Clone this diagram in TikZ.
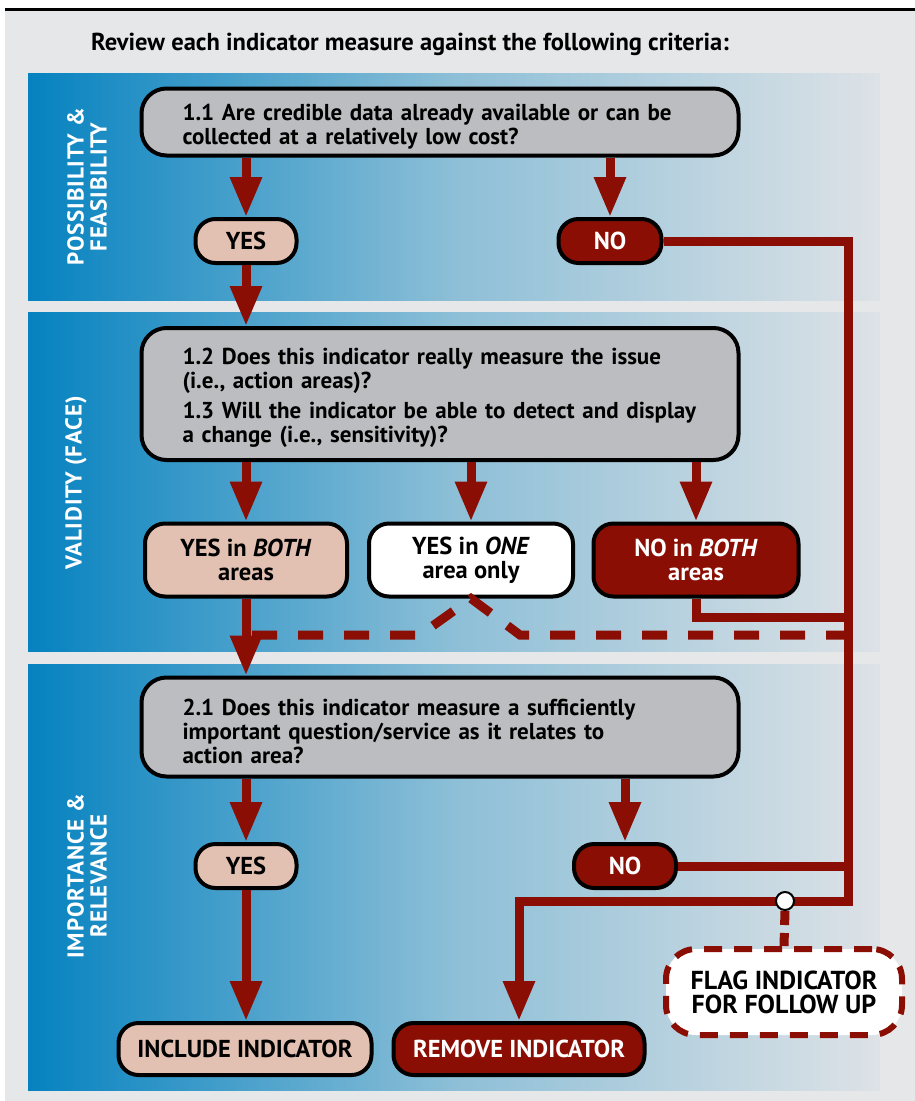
\documentclass[tikz,border=0pt]{standalone}
\usepackage{fontspec}
\setmainfont{PT Sans}
\newfontfamily\bandfont[LetterSpace=4]{PT Sans}
\usetikzlibrary{arrows.meta}
\definecolor{pagegray}{HTML}{E6E7E8}
\definecolor{bandleft}{HTML}{0582C0}
\definecolor{bandmid}{HTML}{8DBFD7}
\definecolor{bandright}{HTML}{DDE2E6}
\definecolor{qgray}{HTML}{BCBDC0}
\definecolor{yespink}{HTML}{E3C1B2}
\definecolor{nored}{HTML}{8B0E04}

\begin{document}
\begin{tikzpicture}[x=1pt, y=-1pt,
    band/.style = {left color=bandleft, right color=bandright, middle color=bandmid},
    bandlabel/.style = {text=white, align=center, rotate=90, font=\bandfont\bfseries\fontsize{23}{23}\selectfont},
    question/.style = {draw=black, line width=4pt, rounded corners=25pt, fill=qgray,
        minimum width=597pt, text width=515pt, inner xsep=41pt, align=left,
        font=\bfseries\fontsize{23}{24}\selectfont, execute at begin node={\rule{0pt}{25pt}}},
    answer/.style = {draw=black, line width=4pt, rounded corners=20pt, minimum height=44pt,
        align=center, font=\bfseries\fontsize{24.5}{24}\selectfont},
    yesbox/.style = {answer, fill=yespink},
    onebox/.style = {answer, fill=white},
    nobox/.style = {answer, fill=nored, text=white},
    flagbox/.style = {draw=nored, line width=6pt, dash pattern=on 18pt off 12pt, fill=white,
        rounded corners=30pt, minimum width=236pt, minimum height=86pt, align=center,
        font=\bfseries\fontsize{26}{24}\selectfont},
    link/.style = {draw=nored, line width=9pt},
    flow/.style = {link, -{Triangle[length=40pt,width=30pt]}},
    maybe/.style = {link, dash pattern=on 25pt off 21pt},
    dot/.style = {circle, draw=black, line width=2pt, fill=white, minimum size=18pt, inner sep=0pt}]

\useasboundingbox (0,0) rectangle (915,1101);
\fill[pagegray] (5,10) rectangle (915,1101);
\draw[line width=3pt] (5,9) -- (915,9);
\shade[band] (28,73) rectangle (880,300);
\shade[band] (28,312) rectangle (880,651);
\shade[band] (28,664) rectangle (880,1090);

\node[font=\bfseries\fontsize{24.5}{24}\selectfont] (title) at (410,44) {Review each indicator measure against the following criteria:};

\node[bandlabel] (lab1) at (87,187) {POSSIBILITY \&\\FEASIBILITY};
\node[bandlabel] (lab2) at (76,483) {VALIDITY (FACE)};
\node[bandlabel] (lab3) at (87,876) {IMPORTANCE \&\\RELEVANCE};

\node[question, minimum height=67pt] (q1) at (440,122)
    {1.1 Are credible data already available or can be\\collected at a relatively low cost?};
\node[yesbox, minimum width=101pt] (yes1) at (246,241) {YES};
\node[nobox, minimum width=103pt] (no1) at (610,241) {NO};

\node[question, minimum height=132pt] (q2) at (440,394)
    {1.2 Does this indicator really measure the issue\\(i.e., action areas)?\\[6pt]
     1.3 Will the indicator be able to detect and display\\a change (i.e., sensitivity)?};
\node[yesbox, minimum width=202pt, minimum height=73pt] (yesboth) at (246,560) {YES in \textit{BOTH}\\areas};
\node[onebox, minimum width=204pt, minimum height=73pt] (yesone) at (471,560) {YES in \textit{ONE}\\area only};
\node[nobox, minimum width=205pt, minimum height=73pt] (noboth) at (696,560) {NO in \textit{BOTH}\\areas};

\node[question, minimum height=99pt] (q3) at (440,727)
    {2.1 Does this indicator measure a sufficiently\\important question/service as it relates to\\action area?};
\node[yesbox, minimum width=101pt] (yes3) at (246,866) {YES};
\node[nobox, minimum width=102pt] (no3) at (625,866) {NO};

\node[yesbox, minimum width=253pt, minimum height=52pt] (include) at (245,1049) {INCLUDE INDICATOR};
\node[nobox, minimum width=251pt, minimum height=52pt] (remove) at (519,1049) {REMOVE INDICATOR};
\node[flagbox] (flag) at (784,992) {FLAG INDICATOR\\FOR FOLLOW UP};

\coordinate (corner) at (848,901);
\coordinate (nbjoin) at (848,617);
\coordinate (dashL) at (252,635);
\coordinate (dashR) at (848,635);
\coordinate (flagjoin) at (785,901);

\draw[flow] (q1.south -| yes1) -- (yes1.north);
\draw[flow] (q1.south -| no1) -- (no1.north);
\draw[flow] (yes1.south) -- (yes1.south |- q2.north);
\draw[flow] (q2.south -| yesboth) -- (yesboth.north);
\draw[flow] (q2.south -| yesone) -- (yesone.north);
\draw[flow] (q2.south -| noboth) -- (noboth.north);
\draw[flow] (yesboth.south) -- (yesboth.south |- q3.north);
\draw[flow] (q3.south -| yes3) -- (yes3.north);
\draw[flow] (q3.south -| no3) -- (no3.north);
\draw[flow] (yes3.south) -- (yes3.south |- include.north);

\draw[flow] (no1.east) -| (corner) -| (remove.north);
\draw[link] (noboth.south) |- (nbjoin);
\draw[link] (no3.east) -- (no3.east -| corner);
\draw[maybe] (dashL) -- (420,635) -- (yesone.south) -- (520,635) -- (dashR);

\node[dot] (flagdot) at (flagjoin) {};
\draw[link, dash pattern=on 14pt off 8pt] (flagdot.south) -- (flag.north);
\end{tikzpicture}
\end{document}
